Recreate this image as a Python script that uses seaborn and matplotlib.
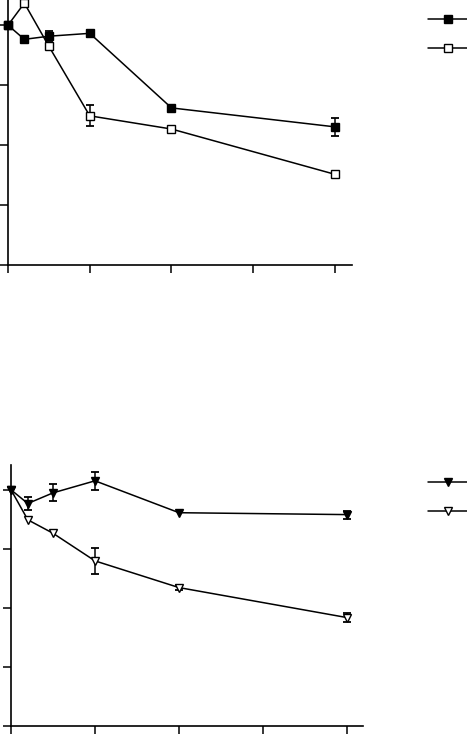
import numpy as np
import pandas as pd
import matplotlib
matplotlib.use("Agg")
import matplotlib.pyplot as plt
import seaborn as sns
from matplotlib.lines import Line2D

sns.set_style("ticks")
plt.rcParams['font.family'] = ['DejaVu Sans']

# ---- data ----
time = [0, 1, 2.5, 5, 10, 20]
x_ticks = [0, 5, 10, 15, 20]
y_ticks = [0, 25, 50, 75, 100]

a_filled_sq = [100, 94.1, 95.4, 96.6, 65.5, 57.6]
a_filled_sq_err = [0, 0, 2.0, 1.5, 0, 3.8]
a_open_sq = [100, 109.2, 91.2, 62.2, 56.7, 37.8]
a_open_sq_err = [0, 0, 0, 4.4, 0, 0]

b_filled_tri = [100, 94.2, 98.7, 103.8, 90.3, 89.5]
b_filled_tri_err = [0, 2.6, 3.6, 3.7, 0, 1.7]
b_open_tri = [100, 87.3, 81.6, 69.9, 58.6, 45.9]
b_open_tri_err = [0, 0, 0, 5.5, 1.0, 2.0]

W, H = 467, 735
fig = plt.figure(figsize=(W / 100, H / 100), dpi=100)

def fig_axes(left, top, right, bottom):
    return fig.add_axes([left / W, 1 - bottom / H, (right - left) / W, (bottom - top) / H])

ax1 = fig_axes(8, 0, 352, 265)
ax2 = fig_axes(11, 465, 363, 726)

def draw(ax, series, xmax, legend_y, msize):
    handles = []
    for i, (vals, errs, marker, fc) in enumerate(series):
        df = pd.DataFrame({"t": time, "v": vals})
        z = 4 if fc == "black" else 3
        sns.lineplot(data=df, x="t", y="v", ax=ax, color="black", lw=1.1,
                     marker=marker, markersize=msize, markerfacecolor=fc,
                     markeredgecolor="black", markeredgewidth=1.0, zorder=z,
                     clip_on=False)
        e = np.array(errs)
        m = e > 0
        ax.errorbar(np.array(time)[m], np.array(vals)[m], yerr=e[m], fmt="none",
                    ecolor="black", elinewidth=1.1, capsize=3, capthick=1.3, zorder=2)
        handles.append(Line2D([], [], color="black", lw=1.1, marker=marker,
                              markersize=msize, markerfacecolor=fc, markeredgecolor="black"))
    ax.set_xlim(0, xmax)
    ax.set_ylim(0, 110.5)
    ax.set_xticks(x_ticks)
    ax.set_yticks(y_ticks)
    ax.set_xticklabels([])
    ax.set_yticklabels([])
    ax.set_xlabel("")
    ax.set_ylabel("")
    ax.tick_params(axis="both", direction="out", length=6, width=1.1, color="black")
    for s in ["top", "right"]:
        ax.spines[s].set_visible(False)
    for s in ["left", "bottom"]:
        ax.spines[s].set_color("black")
        ax.spines[s].set_linewidth(1.2)
    leg = fig.legend(handles, ["", ""], loc="upper left",
                     bbox_to_anchor=(421 / W, 1 - legend_y / H), frameon=False,
                     handlelength=2.9, labelspacing=1.1, borderpad=0, handletextpad=0)
    return leg

draw(ax1, [(a_filled_sq, a_filled_sq_err, "s", "black"),
           (a_open_sq, a_open_sq_err, "s", "white")], 21.04, 6, 6)
draw(ax2, [(b_filled_tri, b_filled_tri_err, "v", "black"),
           (b_open_tri, b_open_tri_err, "v", "white")], 20.95, 469, 5.5)

fig.savefig("out.png", dpi=100)
